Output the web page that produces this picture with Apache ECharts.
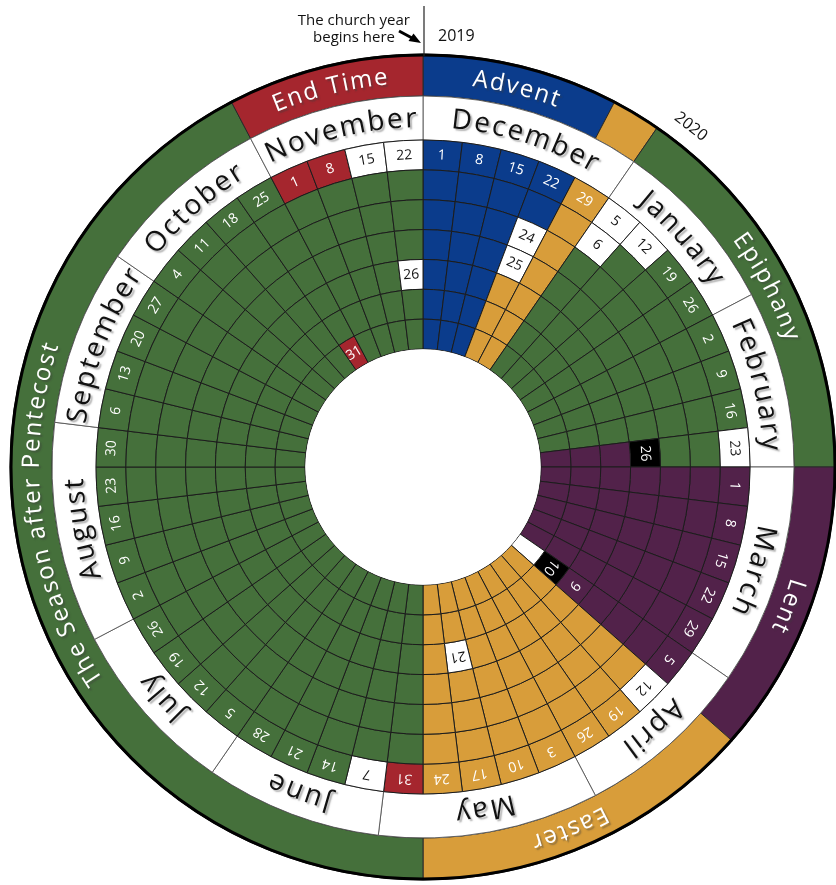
<!DOCTYPE html>
<html>
<head>
<meta charset="utf-8">
<script src="https://cdn.jsdelivr.net/npm/echarts@6/dist/echarts.min.js"></script>
<style>html,body{margin:0;padding:0;background:#fff}#c{width:836px;height:885px}</style>
</head>
<body>
<div id="c"></div>
<script>
// ---------------- data ----------------
const sundayDates = [1,8,15,22,29, 5,12,19,26, 2,9,16,23, 1,8,15,22,29, 5,12,19,26,
  3,10,17,24,31, 7,14,21,28, 5,12,19,26, 2,9,16,23,30, 6,13,20,27, 4,11,18,25, 1,8,15,22];
const monthNames = ['December','January','February','March','April','May','June','July','August','September','October','November'];
const monthSundays = [5,4,4,5,4,5,4,4,5,4,4,4];
const seasonNames = ['Advent','Christmas','Epiphany','Lent','Easter','The Season after Pentecost','End Time'];
const seasonLabels = ['Advent','','Epiphany','Lent','Easter','The Season after Pentecost','End Time'];
const seasonWeeks = [4,1,8,6,7,22,4];
const seasonCodes = ['B','Y','G','P','Y','G','R'];
// colour of each day (Sun..Sat) of each week, B blue, Y gold, G green, P purple, R red, W white, K black
const weekDayColors = [
  'BBBBBBB','BBBBBBB','BBBBBBB','BBWWYYY','YYYYYYY',
  'WWGGGGG','WGGGGGG','GGGGGGG','GGGGGGG',
  'GGGGGGG','GGGGGGG','GGGGGGG','WGGKPPP',
  'PPPPPPP','PPPPPPP','PPPPPPP','PPPPPPP','PPPPPPP',
  'PPPPPKW','WYYYYYY','YYYYYYY','YYYYYYY',
  'YYYYYYY','YYYYYYY','YYYYWYY','YYYYYYY','RGGGGGG',
  'WGGGGGG','GGGGGGG','GGGGGGG','GGGGGGG',
  'GGGGGGG','GGGGGGG','GGGGGGG','GGGGGGG',
  'GGGGGGG','GGGGGGG','GGGGGGG','GGGGGGG','GGGGGGG',
  'GGGGGGG','GGGGGGG','GGGGGGG','GGGGGGG',
  'GGGGGGG','GGGGGGG','GGGGGGG','GGGGGGR',
  'RGGGGGG','RGGGGGG','WGGGGGG','WGGGWGG'
];
// [week, weekday, label] for marked weekdays
const specialDays = [[3,2,'24'],[3,3,'25'],[5,1,'6'],[12,3,'26'],[18,4,'9'],[18,5,'10'],[24,4,'21'],[47,6,'31'],[51,4,'26']];
const yearLabels = ['2019','2020'];
const noteLines = ['The church year','begins here'];

// ---------------- geometry / style ----------------
const PAL = {B:'#0b3c8c', Y:'#d89d3a', G:'#45703b', P:'#52224a', R:'#a5262e', W:'#ffffff', K:'#000000'};
const CX = 423, CY = 467;
const R_HOLE = 118, R_SUN = 327, R_MONTH = 371, R_OUT = 413;
const DW = (R_SUN - R_HOLE) / 7;
const NW = sundayDates.length;
const KW = NW / (2 * Math.PI);
const FONT = '"Open Sans", "Noto Sans", sans-serif';
const mctx = document.createElement('canvas').getContext('2d');

function cum(arr){const out=[];let s=0;arr.forEach(v=>{out.push(s);s+=v;});return out;}
const monthStart = cum(monthSundays);
const seasonStart = cum(seasonWeeks);

const specialMap = {};
specialDays.forEach(s => { specialMap[s[0] + '-' + s[1]] = s[2]; });
const cellData = [], cellCodes = [], cellLabels = [];
for (let w = 0; w < NW; w++) {
  for (let d = 0; d < 7; d++) {
    cellData.push([w, d]);
    cellCodes.push(weekDayColors[w][d]);
    cellLabels.push(d === 0 ? String(sundayDates[w]) : (specialMap[w + '-' + d] || ''));
  }
}

function sector(params, api, r0, r1, w0, w1, style) {
  const a = api.coord([r0, w0]), b = api.coord([r1, w1]);
  const s1 = -a[3], s2 = -b[3];
  return {type:'sector', shape:{cx:params.coordSys.cx, cy:params.coordSys.cy, r0:a[2], r:b[2],
    startAngle:Math.min(s1,s2), endAngle:Math.max(s1,s2), clockwise:true}, style:style};
}

function arcText(api, text, r, centerW, size, spacing, fill, shadowColor) {
  const font = size + 'px ' + FONT;
  mctx.font = font;
  const chars = Array.from(text);
  const widths = chars.map(ch => mctx.measureText(ch).width);
  const total = widths.reduce((s,x)=>s+x,0) + spacing*(chars.length-1);
  let pos = -total/2;
  const out = [];
  chars.forEach((ch, i) => {
    const c = pos + widths[i]/2;
    pos += widths[i] + spacing;
    if (ch === ' ') return;
    const p = api.coord([r, centerW + (c / r) * KW]);
    out.push({type:'text', x:p[0], y:p[1], rotation:p[3] - Math.PI/2,
      style:{text:ch, fill:fill, fontSize:size, fontFamily:FONT, align:'center', verticalAlign:'middle',
        textShadowColor:shadowColor, textShadowBlur:1.5, textShadowOffsetX:2, textShadowOffsetY:2}});
  });
  return out;
}

const seasonShift = {5: 0.9, 4: 0.3};

const option = {
  backgroundColor:'#ffffff',
  animation:false,
  polar:{center:[CX, CY], radius:[0, R_OUT]},
  angleAxis:{type:'value', min:0, max:NW, startAngle:90, clockwise:true, show:false},
  radiusAxis:{type:'value', min:0, max:R_OUT, show:false},
  series:[
    { // seasons ring
      type:'custom', coordinateSystem:'polar', silent:true, z:1,
      data: seasonWeeks.map((n,i)=>[seasonStart[i], seasonStart[i]+n]),
      renderItem(params, api){
        const i = params.dataIndex, w0 = api.value(0), w1 = api.value(1);
        const ch = [sector(params, api, R_MONTH, R_OUT, w0, w1, {fill:PAL[seasonCodes[i]], stroke:'#2a2a2a', lineWidth:1})];
        if (seasonLabels[i]) {
          const cw = (w0 + w1)/2 + (seasonShift[i] || 0);
          arcText(api, seasonLabels[i], 391, cw, 24, 2, '#ffffff', 'rgba(60,60,60,0.45)').forEach(t=>ch.push(t));
        }
        return {type:'group', children:ch};
      }
    },
    { // months ring
      type:'custom', coordinateSystem:'polar', silent:true, z:2,
      data: monthSundays.map((n,i)=>[monthStart[i], monthStart[i]+n]),
      renderItem(params, api){
        const i = params.dataIndex, w0 = api.value(0), w1 = api.value(1);
        const ch = [sector(params, api, R_SUN, R_MONTH, w0, w1, {fill:'#ffffff', stroke:'#555', lineWidth:0.9})];
        arcText(api, monthNames[i], 348, (w0+w1)/2, 28, 2.5, '#111111', 'rgba(130,130,130,0.6)').forEach(t=>ch.push(t));
        return {type:'group', children:ch};
      }
    },
    { // day cells
      type:'custom', coordinateSystem:'polar', silent:true, z:3,
      data: cellData,
      renderItem(params, api){
        const w = api.value(0), d = api.value(1);
        const rOut = R_SUN - d*DW, rIn = rOut - DW;
        const code = cellCodes[params.dataIndex];
        const ch = [sector(params, api, rIn, rOut, w, w+1, {fill:PAL[code], stroke:'#1c1c1c', lineWidth:1})];
        const lab = cellLabels[params.dataIndex];
        if (lab) {
          const m = api.coord([(rIn+rOut)/2, w+0.5]);
          ch.push({type:'text', x:m[0], y:m[1], rotation:m[3]-Math.PI/2,
            style:{text:lab, fill: code==='W' ? '#111' : '#fff', fontSize:14, fontFamily:FONT, align:'center', verticalAlign:'middle'}});
        }
        return {type:'group', children:ch};
      }
    },
    { // rim and hole
      type:'custom', coordinateSystem:'polar', silent:true, z:4,
      data:[[0,0]],
      renderItem(params, api){
        const o = api.coord([R_OUT - 1, 0]), h = api.coord([R_HOLE - 0.3, 0]);
        const cs = params.coordSys;
        return {type:'group', children:[
          {type:'circle', shape:{cx:cs.cx, cy:cs.cy, r:o[2]}, style:{fill:'none', stroke:'#000', lineWidth:3}},
          {type:'circle', shape:{cx:cs.cx, cy:cs.cy, r:h[2]}, style:{fill:'#fff', stroke:'none'}}
        ]};
      }
    }
  ],
  graphic:[
    {type:'line', z:10, shape:{x1:CX+1, y1:6, x2:CX+1, y2:CY-R_OUT+2}, style:{stroke:'#222', lineWidth:1.2}},
    {type:'text', z:10, x:410, y:21, style:{text:noteLines[0], fontSize:15, fontFamily:FONT, fill:'#111', align:'right', verticalAlign:'middle'}},
    {type:'text', z:10, x:395, y:38, style:{text:noteLines[1], fontSize:15, fontFamily:FONT, fill:'#111', align:'right', verticalAlign:'middle'}},
    {type:'line', z:10, shape:{x1:399, y1:31, x2:413, y2:38.5}, style:{stroke:'#000', lineWidth:3}},
    {type:'polygon', z:10, shape:{points:[[421,43],[408.5,41],[413.5,33.5]]}, style:{fill:'#000'}},
    {type:'text', z:10, x:438, y:36, style:{text:yearLabels[0], fontSize:16, fontFamily:FONT, fill:'#111', align:'left', verticalAlign:'middle'}},
    {type:'text', z:10, x:CX + 433*Math.sin(38.2*Math.PI/180), y:CY - 433*Math.cos(38.2*Math.PI/180),
      rotation:-38.2*Math.PI/180, style:{text:yearLabels[1], fontSize:16, fontFamily:FONT, fill:'#111', align:'center', verticalAlign:'middle'}}
  ]
};

const chart = echarts.init(document.getElementById('c'), null, {renderer:'canvas'});
chart.setOption(option);
</script>
</body>
</html>
